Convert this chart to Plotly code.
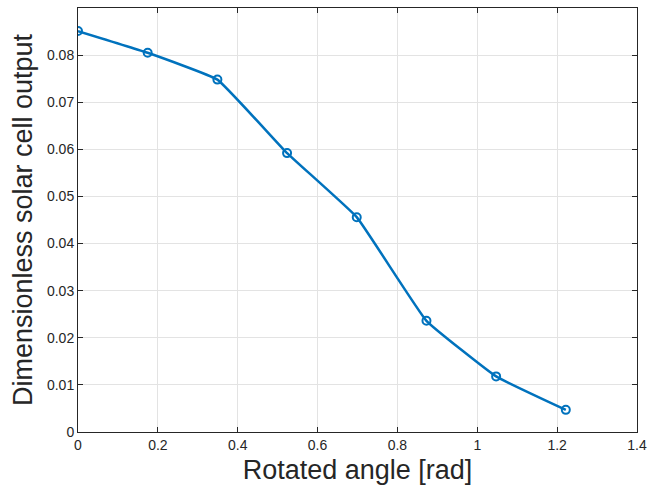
import plotly.graph_objects as go

angle_rad = [0.0, 0.1745, 0.3491, 0.5236, 0.6981, 0.8727, 1.0472, 1.2217]
output = [0.0851, 0.0805, 0.0748, 0.0592, 0.0456, 0.0236, 0.0118, 0.0047]

x_ticks = [0, 0.2, 0.4, 0.6, 0.8, 1.0, 1.2, 1.4]
x_tick_text = ["0", "0.2", "0.4", "0.6", "0.8", "1", "1.2", "1.4"]
y_ticks = [0, 0.01, 0.02, 0.03, 0.04, 0.05, 0.06, 0.07, 0.08, 0.09]
y_tick_text = ["0", "0.01", "0.02", "0.03", "0.04", "0.05", "0.06", "0.07", "0.08", "0.09"]

blue = "#0072BD"
font_fam = "Liberation Sans, Arial, sans-serif"
fig = go.Figure()
fig.add_trace(go.Scatter(
    x=angle_rad, y=output, mode="lines+markers",
    line=dict(color=blue, width=2.5, shape="spline", smoothing=0.3),
    marker=dict(symbol="circle-open", size=8, color=blue, line=dict(width=2, color=blue)),
    showlegend=False,
))

axis_common = dict(
    showline=True, linecolor="#262626", linewidth=1, mirror="ticks",
    ticks="inside", ticklen=5, tickcolor="#262626",
    showgrid=True, gridcolor="#e3e3e3", gridwidth=1, zeroline=False,
    automargin=False,
    tickfont=dict(family=font_fam, size=14, color="#262626"),
)

fig.update_layout(
    width=649, height=500,
    margin=dict(l=78, r=12, t=8, b=68),
    paper_bgcolor="white", plot_bgcolor="white",
    xaxis=dict(range=[0, 1.4], tickvals=x_ticks, ticktext=x_tick_text,
               title=dict(text="Rotated angle [rad]", standoff=8,
                          font=dict(family=font_fam, size=27, color="#262626")),
               **axis_common),
    yaxis=dict(range=[0, 0.09], tickvals=y_ticks, ticktext=y_tick_text,
               title=dict(text="Dimensionless solar cell output", standoff=6,
                          font=dict(family=font_fam, size=27, color="#262626")),
               **axis_common),
)

fig.write_html("out.html")
